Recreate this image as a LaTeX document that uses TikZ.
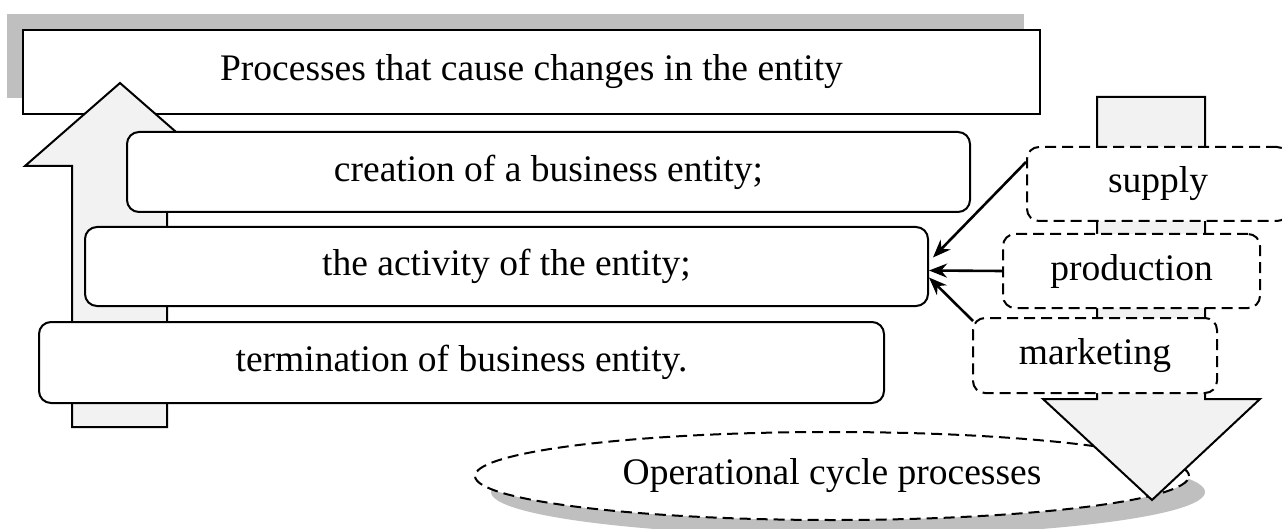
\documentclass[tikz,border=0pt]{standalone}
\usepackage{fontspec}
\setmainfont{Liberation Serif}
\usetikzlibrary{shapes.geometric,arrows.meta,calc}
\definecolor{shadowgray}{HTML}{BFBFBF}
\definecolor{arrowfill}{HTML}{F2F2F2}
\begin{document}
\begin{tikzpicture}[x=1pt,y=-1pt,
  txt/.style={font=\fontsize{37.5}{44}\selectfont},
  procbox/.style={draw, line width=2pt, rounded corners=12pt, fill=white, inner sep=0pt, txt},
  dbox/.style={draw, line width=2pt, dash pattern=on 11pt off 6pt, rounded corners=12pt, fill=white, inner sep=0pt, txt},
  bigarrow/.style={draw, line width=2pt, fill=arrowfill, line join=miter},
  conn/.style={line width=2.6pt, -{Stealth[length=18pt,width=14pt]}}]
\useasboundingbox (0,0) rectangle (1282,529);
\clip (0,0) rectangle (1282,529);
% top box with shadow
\fill[shadowgray] (7,14) rectangle (1024,98);
\node[draw, line width=2pt, fill=white, inner sep=0pt, minimum width=1017pt, minimum height=84pt, txt] (top) at (531.5,72) {Processes that cause changes in the entity};
% left up arrow
\path[bigarrow] (72,427) -- (72,166) -- (25,166) -- (120,83) -- (215,166) -- (167,166) -- (167,427) -- cycle;
% rounded boxes
\node[procbox, minimum width=843pt, minimum height=80pt] (create) at (548.5,172) {creation of a business entity;};
\node[procbox, minimum width=843pt, minimum height=79pt] (activity) at (506.5,266.5) {the activity of the entity;};
\node[procbox, minimum width=845pt, minimum height=81pt] (term) at (461.5,362.5) {termination of business entity.};
% ellipse with shadow
\fill[shadowgray] (848,492) ellipse [x radius=357pt, y radius=44pt];
\node[ellipse, draw, line width=2pt, dash pattern=on 11pt off 6pt, fill=white, inner sep=0pt, minimum width=714pt, minimum height=88pt, txt] (cycle) at (832,476) {Operational cycle processes};
% right down arrow
\path[bigarrow] (1097,97) -- (1205,97) -- (1205,399) -- (1260,399) -- (1152,500) -- (1043,399) -- (1097,399) -- cycle;
% dashed boxes
\node[dbox, minimum width=262pt, minimum height=74pt] (supply) at (1158,184) {supply};
\node[dbox, minimum width=257pt, minimum height=74pt] (production) at (1131.5,271) {production};
\node[dbox, minimum width=244pt, minimum height=75pt] (marketing) at (1095,355.5) {marketing};
% connectors
\draw[conn] ([yshift=-16pt]supply.north west) -- ([xshift=4pt,yshift=9pt]activity.east);
\draw[conn] (production.west) -- ([yshift=-4pt]activity.east);
\draw[conn] ([xshift=1pt,yshift=-4pt]marketing.north west) -- ([yshift=-11pt]activity.east);
\end{tikzpicture}
\end{document}
